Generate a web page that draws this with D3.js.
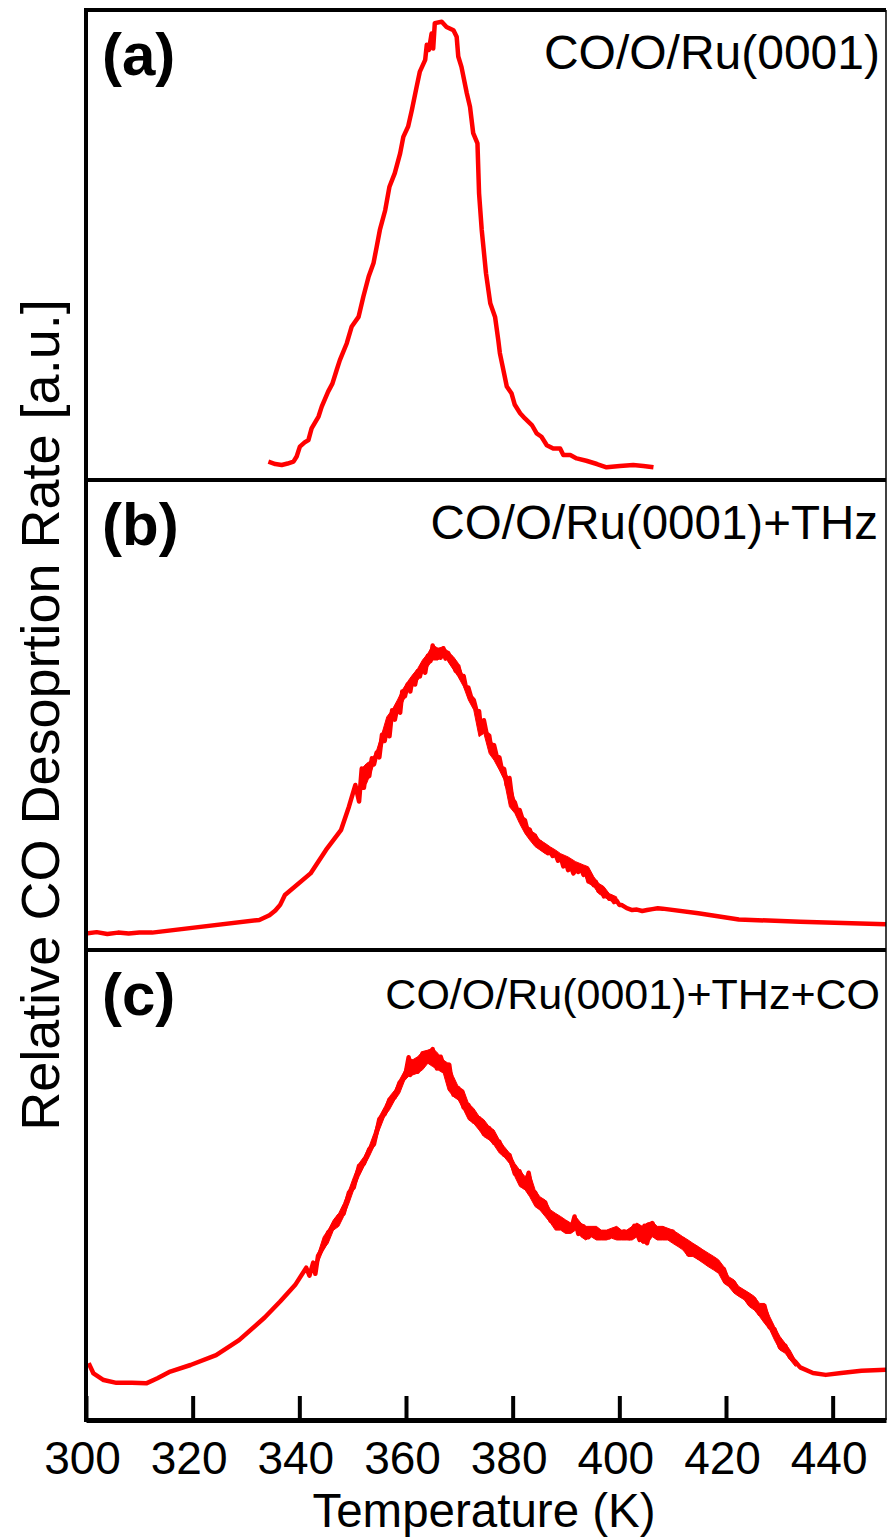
<!DOCTYPE html>
<html>
<head>
<meta charset="UTF-8">
<title>CO desorption rate, three panels</title>
<script src="https://cdnjs.cloudflare.com/ajax/libs/d3/7.8.5/d3.min.js"></script>
<style>
	body { margin: 0; background: white; }
	text { font-family: "Liberation Sans", Arial, sans-serif; fill: black; }
</style>
</head>
<body>
<svg id="chart" width="890" height="1539"></svg>
<script>
// ---- data (temperature in K, rate in % of panel height) ----
var tempA = [334.2, 335.5, 336.7, 337.8, 338.9, 339.5, 340.1, 341.0, 341.7, 342.3, 343.6, 344.2, 345.4, 346.2, 347.0, 347.6,
	348.9, 349.8, 351.1, 352.0, 353.0, 353.9, 354.5, 355.1, 356.1, 356.9, 357.9, 358.9, 359.5, 360.4, 361.1, 362.0, 362.6,
	363.6, 363.9, 364.3, 364.8, 365.1, 365.4, 366.7, 367.6, 368.9, 369.5, 369.8, 370.4, 371.4, 372.0, 372.6, 373.4, 373.7,
	374.2, 375.0, 375.8, 376.7, 377.3, 377.6, 378.9, 379.8, 380.4, 381.4, 382.3, 383.6, 384.5, 385.4, 386.4, 387.6, 388.9,
	389.5, 390.8, 392.0, 393.8, 395.8, 397.6, 400.1, 402.6, 404.5, 406.4];
var rateA = [3.9, 3.4, 3.2, 3.5, 3.9, 5.0, 7.1, 8.0, 8.5, 11.0, 13.5, 15.6, 18.8, 20.5, 23.4, 25.5,
	29.1, 32.6, 34.7, 39.0, 43.3, 46.1, 49.6, 53.2, 57.4, 62.4, 65.3, 69.5, 73.0, 75.2, 78.7, 83.7, 86.9,
	89.4, 92.6, 91.5, 95.0, 91.8, 97.2, 97.5, 96.4, 95.7, 94.3, 90.1, 87.9, 82.3, 79.4, 73.8, 71.6, 61.0,
	53.2, 44.0, 37.6, 34.7, 29.8, 27.0, 19.9, 18.4, 16.0, 14.2, 13.1, 11.7, 9.9, 9.2, 7.4, 6.7, 6.7,
	5.3, 5.3, 4.6, 4.1, 3.4, 2.7, 3.0, 3.2, 3.0, 2.7];

var tempB = [300.0, 302.0, 304.0, 306.0, 308.0, 310.0, 312.4, 332.5, 334.4, 335.5, 336.4, 337.3, 342.1, 345.0, 347.8, 349.3,
	350.5, 351.2, 351.7, 352.1, 352.6, 353.1, 353.6, 354.0, 354.5, 355.0, 355.5, 356.0, 356.4, 356.9, 357.4, 357.9,
	358.4, 358.9, 359.3, 359.8, 360.3, 360.8, 361.2, 361.7, 362.2, 362.6, 363.1, 363.6, 364.1, 364.6, 365.0, 365.5,
	366.0, 366.5, 367.0, 367.4, 367.9, 368.4, 368.9, 369.3, 369.8, 370.3, 370.8, 371.2, 371.7, 372.2, 372.7, 373.2,
	373.7, 374.1, 374.6, 375.1, 375.6, 376.0, 376.5, 377.0, 377.5, 377.9, 378.4, 378.9, 379.4, 379.9, 380.4, 380.8,
	381.3, 381.8, 382.3, 382.7, 383.2, 383.7, 384.2, 384.7, 385.1, 385.6, 386.1, 386.6, 387.1, 387.5, 388.0, 388.5,
	389.0, 389.5, 390.0, 390.4, 390.9, 391.4, 391.8, 392.3, 392.8, 393.3, 393.8, 394.2, 394.7, 395.2, 395.6, 396.1,
	396.6, 397.1, 397.6, 398.1, 398.5, 399.0, 399.5, 400.0, 400.4, 401.4, 402.4, 403.3, 404.3, 405.2, 406.2, 407.2,
	408.1, 414.8, 422.4, 433.9, 450.0];
var rateB = [3.5, 3.8, 3.4, 3.7, 3.5, 3.7, 3.7, 6.4, 7.4, 8.4, 9.6, 11.7, 16.3, 21.3, 25.5, 30.5,
	35.1, 31.6, 38.6, 34.5, 38.6, 37.0, 40.8, 39.5, 42.0, 41.0, 45.8, 44.5, 47.0, 45.5, 51.0, 49.0,
	51.8, 50.5, 55.0, 54.0, 56.5, 55.0, 57.6, 56.5, 59.3, 58.2, 60.6, 59.0, 62.6, 61.5, 64.8, 62.6,
	63.8, 62.2, 64.2, 62.0, 63.2, 61.3, 61.5, 59.4, 60.4, 58.0, 58.3, 56.0, 55.8, 53.8, 53.2, 51.0,
	50.8, 46.3, 48.9, 46.1, 45.6, 42.7, 43.6, 41.2, 41.0, 38.8, 38.5, 35.0, 36.6, 32.1, 31.4, 29.9,
	29.8, 28.0, 27.6, 25.8, 25.6, 24.0, 24.3, 22.4, 23.0, 21.5, 22.0, 20.6, 21.0, 20.0, 20.5, 19.0,
	19.8, 17.8, 18.6, 17.0, 17.8, 16.3, 17.0, 16.6, 17.4, 16.0, 16.6, 14.6, 15.6, 13.8, 14.5, 12.6,
	13.2, 11.4, 12.0, 10.9, 11.3, 10.2, 10.5, 9.6, 9.6, 8.9, 8.5, 8.6, 8.3, 8.5, 8.7, 8.9,
	8.8, 7.8, 6.5, 6.0, 5.5];

// noise envelope of trace (b): upper and lower edge of the jittery band
var noiseTempB = [351.7, 352.6, 353.6, 354.5, 355.5, 356.4, 357.4, 358.4, 359.3, 360.3, 361.2, 362.2, 363.1, 364.1, 365.0, 366.0,
	367.0, 367.9, 368.9, 369.8, 370.8, 371.7, 372.7, 373.7, 374.6, 375.6, 376.5, 377.5, 378.4, 379.4, 380.4, 381.3,
	382.3, 383.2, 384.2, 385.1, 386.1, 387.1, 388.0, 389.0, 390.4, 391.8, 393.3, 394.2, 395.2, 396.1, 397.1, 398.1, 399.5];
var noiseHiB = [38.6, 39.7, 40.4, 42.5, 46.1, 49.6, 51.1, 53.2, 55.3, 57.1, 58.5, 59.9, 61.7, 63.1, 64.9, 64.2,
	64.5, 63.5, 62.4, 61.0, 58.1, 55.3, 53.2, 50.3, 48.2, 45.4, 43.3, 40.4, 38.3, 36.2, 31.9, 29.1,
	27.6, 25.5, 24.8, 23.4, 22.7, 21.9, 21.3, 20.5, 19.8, 18.8, 18.1, 17.7, 15.6, 14.2, 13.5, 12.0, 11.3];
var noiseLoB = [35.1, 35.4, 38.3, 41.1, 43.3, 46.8, 48.9, 51.1, 52.5, 54.9, 56.0, 57.4, 58.9, 60.3, 61.7, 61.7,
	63.1, 61.3, 59.6, 58.1, 56.0, 53.2, 51.1, 45.4, 46.1, 41.8, 40.4, 38.3, 36.2, 30.5, 29.1, 26.9,
	24.8, 23.4, 22.0, 21.3, 20.5, 20.2, 20.2, 19.1, 17.7, 17.0, 16.3, 14.2, 13.5, 12.0, 11.3, 10.6, 9.9];

var tempC = [300.5, 301.4, 303.3, 305.7, 308.6, 311.3, 313.4, 315.8, 319.6, 324.4, 328.7, 333.5, 336.4, 339.2, 341.3, 341.9,
	342.6, 343.0, 343.5, 344.5, 345.4, 346.4, 347.4, 348.3, 349.3, 350.2, 351.2, 352.1, 353.1, 354.0, 355.0, 356.0,
	356.9, 357.9, 358.8, 359.8, 360.5, 360.8, 361.2, 362.2, 363.1, 364.1, 365.0, 365.8, 366.5, 367.4, 368.1, 368.9,
	369.8, 370.8, 371.7, 372.7, 373.7, 374.6, 375.6, 376.5, 377.5, 378.4, 379.4, 380.4, 381.3, 382.3, 383.0, 383.7,
	384.2, 385.1, 386.1, 387.1, 388.0, 389.0, 389.9, 390.9, 391.6, 392.3, 393.3, 394.2, 395.2, 396.1, 397.1, 398.1,
	399.0, 400.0, 400.9, 401.9, 402.8, 403.8, 404.7, 405.2, 406.2, 407.1, 408.1, 409.1, 410.0, 411.0, 411.9, 412.9,
	413.8, 414.8, 415.7, 416.7, 417.7, 418.6, 419.6, 420.5, 421.5, 422.4, 423.4, 424.4, 425.3, 426.3, 427.2, 428.2,
	429.1, 430.1, 431.1, 432.0, 433.0, 433.9, 436.3, 438.7, 441.6, 445.4, 450.0];
var rateC = [12.1, 9.9, 8.5, 7.9, 7.9, 7.8, 8.9, 10.3, 11.7, 13.8, 17.0, 21.8, 25.2, 28.7, 32.4, 30.7,
	33.5, 31.1, 34.9, 36.8, 39.9, 41.0, 43.4, 43.9, 48.4, 49.5, 54.1, 54.5, 57.6, 58.7, 64.0, 65.1,
	68.2, 68.7, 71.8, 72.9, 77.2, 73.4, 76.3, 74.1, 78.0, 76.3, 78.9, 74.8, 77.3, 74.1, 75.6, 69.2,
	70.6, 66.5, 67.0, 63.5, 64.2, 60.9, 62.1, 59.0, 59.2, 56.4, 56.4, 52.4, 52.9, 49.5, 52.6, 47.9,
	48.4, 45.3, 46.3, 42.4, 43.4, 41.0, 42.0, 40.3, 43.3, 39.6, 41.2, 38.9, 40.6, 38.9, 39.9, 38.9,
	40.4, 38.9, 40.1, 38.7, 41.3, 38.3, 41.3, 37.6, 41.9, 38.9, 40.8, 38.9, 40.1, 37.5, 38.5, 35.3,
	37.0, 34.6, 35.6, 33.2, 34.2, 31.8, 32.1, 29.0, 29.2, 26.8, 27.1, 24.7, 25.7, 22.6, 24.3, 19.7,
	19.3, 15.5, 15.8, 13.4, 12.4, 11.2, 10.0, 9.6, 10.0, 10.5, 10.7];

// noise envelope of trace (c)
var noiseTempC = [343.5, 344.5, 345.4, 346.4, 347.4, 348.3, 349.3, 350.2, 351.2, 352.1, 353.1, 354.0, 355.0, 356.0, 356.9, 357.9,
	358.8, 359.8, 360.5, 361.2, 362.2, 363.1, 364.1, 365.0, 366.0, 367.0, 367.9, 368.9, 369.8, 370.8, 371.7, 372.7,
	373.7, 374.6, 375.6, 376.5, 377.5, 378.4, 379.4, 380.4, 381.3, 382.3, 383.2, 384.2, 385.1, 386.1, 387.1, 388.0,
	389.0, 389.9, 390.9, 391.8, 392.8, 393.7, 394.7, 395.7, 396.6, 397.6, 398.5, 399.5, 400.4, 401.4, 402.4, 403.3,
	404.3, 405.2, 406.2, 407.1, 408.1, 409.1, 410.0, 411.0, 411.9, 412.9, 413.8, 414.8, 415.7, 416.7, 417.7, 418.6,
	419.6, 420.5, 421.5, 422.4, 423.4, 424.4, 425.3, 426.3, 427.2, 428.2, 429.1, 430.1, 431.1, 432.0, 433.0];
var noiseHiC = [35.5, 39.0, 40.4, 42.6, 44.0, 46.1, 49.0, 51.8, 54.6, 56.0, 58.2, 61.0, 64.6, 66.7, 68.8, 70.2,
	72.4, 74.5, 77.3, 76.6, 77.3, 78.4, 78.7, 79.1, 78.0, 76.6, 75.9, 73.1, 70.9, 70.2, 67.4, 66.3,
	64.6, 63.9, 62.4, 61.7, 59.6, 58.2, 56.8, 54.6, 53.2, 51.8, 52.5, 49.0, 47.5, 46.8, 44.7, 44.0,
	43.3, 42.6, 41.9, 43.3, 41.9, 41.2, 41.2, 41.2, 40.4, 40.4, 40.8, 41.2, 40.4, 40.4, 41.2, 41.9,
	41.2, 41.9, 42.2, 41.2, 41.2, 40.8, 40.4, 39.7, 39.0, 38.3, 37.6, 36.9, 36.2, 35.5, 34.8, 34.1,
	32.6, 30.5, 29.8, 28.4, 27.7, 27.0, 26.3, 24.8, 24.8, 22.0, 19.9, 17.8, 16.3, 14.9, 12.8];
var noiseLoC = [33.4, 36.2, 37.6, 40.4, 41.2, 43.3, 46.1, 49.0, 51.8, 53.9, 56.0, 58.2, 61.7, 64.6, 66.0, 68.1,
	69.5, 72.4, 73.1, 73.4, 73.8, 74.5, 75.9, 75.2, 74.5, 73.8, 70.2, 68.8, 68.1, 66.0, 63.9, 63.1,
	61.7, 60.3, 59.6, 58.5, 56.8, 56.0, 54.6, 51.8, 49.7, 49.0, 47.5, 45.4, 44.7, 43.3, 41.9, 40.4,
	40.4, 39.7, 39.7, 40.4, 39.0, 38.3, 39.0, 38.3, 38.3, 38.3, 38.7, 38.3, 38.3, 38.3, 38.3, 39.0,
	37.6, 37.6, 39.0, 38.3, 38.3, 38.3, 37.6, 36.9, 36.2, 34.8, 34.8, 34.1, 33.4, 32.6, 31.9, 31.2,
	29.1, 28.4, 27.0, 26.3, 25.6, 24.1, 23.4, 22.0, 20.6, 19.2, 17.0, 14.9, 14.2, 12.8, 11.4];

var xTicks = [300, 320, 340, 360, 380, 400, 420, 440];
var panelTags = ["(a)", "(b)", "(c)"];
var panelNames = ["CO/O/Ru(0001)", "CO/O/Ru(0001)+THz", "CO/O/Ru(0001)+THz+CO"];
var xTitle = "Temperature (K)";
var yTitle = "Relative CO Desoprtion Rate [a.u.]";

// ---- layout ----
var plotLeft = 86, plotRight = 886, plotTop = 10, panelH = 470;
var plotBottom = plotTop + 3 * panelH;
var nameRight = [880, 878, 880];
var nameSize = [48, 47.5, 43];

var svg = d3.select("#chart");
var x = d3.scaleLinear().domain([300, 450]).range([plotLeft, plotRight]);

var series = [
	{ t: tempA, r: rateA },
	{ t: tempB, r: rateB, nt: noiseTempB, hi: noiseHiB, lo: noiseLoB },
	{ t: tempC, r: rateC, nt: noiseTempC, hi: noiseHiC, lo: noiseLoC }
];

series.forEach(function (s, i) {
	var pTop = plotTop + i * panelH;
	var y = d3.scaleLinear().domain([0, 100]).range([pTop + panelH, pTop]);
	var pts = s.t.map(function (t, k) { return [t, s.r[k]]; });

	// jitter band where the trace is noisy
	if (s.nt) {
		var band = s.nt.map(function (t, k) { return [t, s.lo[k], s.hi[k]]; });
		var area = d3.area()
			.x(function (d) { return x(d[0]); })
			.y0(function (d) { return y(d[1]); })
			.y1(function (d) { return y(d[2]); });
		svg.append("path")
			.datum(band)
			.attr("d", area)
			.attr("fill", "#ff0000")
			.attr("stroke", "#ff0000")
			.attr("stroke-width", 1);
	}

	var line = d3.line()
		.x(function (d) { return x(d[0]); })
		.y(function (d) { return y(d[1]); });

	svg.append("path")
		.datum(pts)
		.attr("d", line)
		.attr("fill", "none")
		.attr("stroke", "#ff0000")
		.attr("stroke-width", 4.5)
		.attr("stroke-linejoin", "round");

	// panel letter
	svg.append("text")
		.attr("x", 102)
		.attr("y", pTop + 65)
		.style("font-size", "60px")
		.style("font-weight", "bold")
		.text(panelTags[i]);

	// sample label, right aligned
	svg.append("text")
		.attr("x", nameRight[i])
		.attr("y", pTop + 59)
		.attr("text-anchor", "end")
		.style("font-size", nameSize[i] + "px")
		.text(panelNames[i]);
});

// ---- frame ----
var frame = svg.append("g").attr("stroke", "black");
frame.append("line").attr("x1", plotLeft - 2).attr("x2", plotRight).attr("y1", plotTop).attr("y2", plotTop).attr("stroke-width", 4);
frame.append("line").attr("x1", plotLeft).attr("x2", plotRight).attr("y1", plotTop + panelH).attr("y2", plotTop + panelH).attr("stroke-width", 4);
frame.append("line").attr("x1", plotLeft).attr("x2", plotRight).attr("y1", plotTop + 2 * panelH).attr("y2", plotTop + 2 * panelH).attr("stroke-width", 4);
frame.append("line").attr("x1", plotRight).attr("x2", plotRight).attr("y1", plotTop).attr("y2", plotBottom).attr("stroke-width", 1.5);
frame.append("line").attr("x1", plotLeft).attr("x2", plotLeft).attr("y1", plotTop - 2).attr("y2", plotBottom + 2).attr("stroke-width", 4);

// ---- x axis, ticks pointing inward ----
var xAxis = svg.append("g")
	.attr("transform", "translate(0," + plotBottom + ")")
	.call(d3.axisBottom(x).tickValues(xTicks).tickSizeInner(-24).tickSizeOuter(0).tickPadding(21));
xAxis.select(".domain").attr("stroke-width", 5);
xAxis.selectAll(".tick line").attr("stroke-width", 4);
xAxis.selectAll(".tick text")
	.attr("dx", -4)
	.style("font-family", "'Liberation Sans', Arial, sans-serif")
	.style("font-size", "46px");

svg.append("text")
	.attr("x", 484)
	.attr("y", 1527)
	.attr("text-anchor", "middle")
	.style("font-size", "47.5px")
	.text(xTitle);

svg.append("text")
	.attr("transform", "translate(59,715) rotate(-90)")
	.attr("text-anchor", "middle")
	.style("font-size", "54px")
	.text(yTitle);
</script>
</body>
</html>
